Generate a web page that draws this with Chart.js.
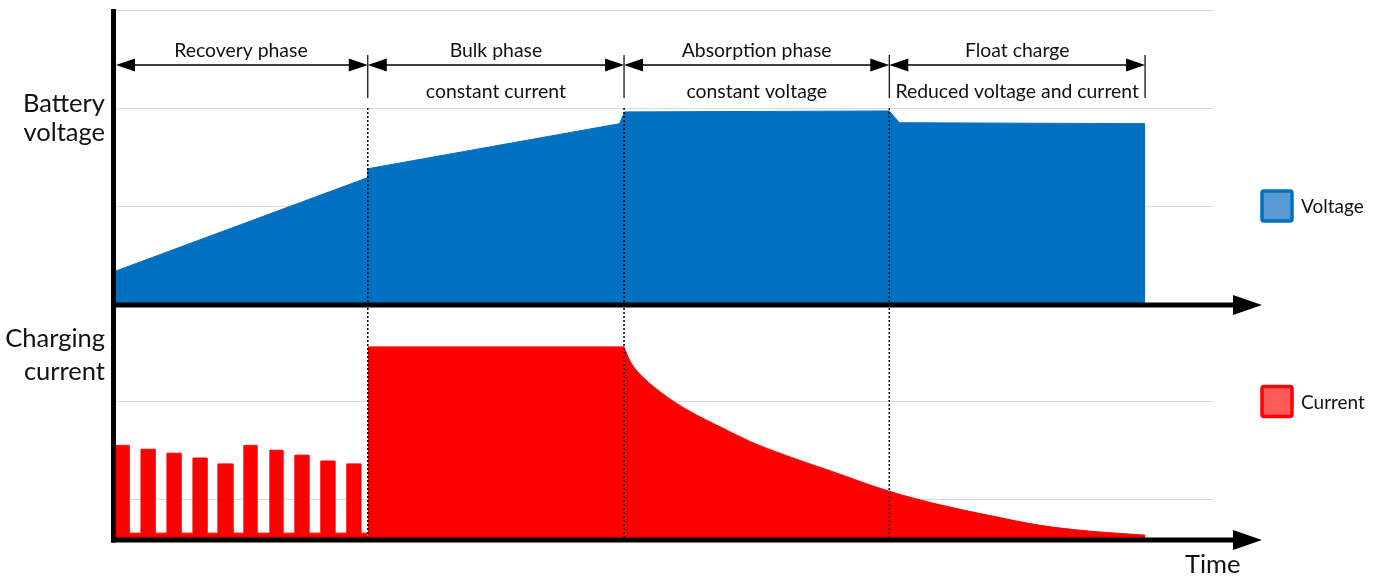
<!DOCTYPE html>
<html lang="en">
<head>
<meta charset="UTF-8">
<title>Battery charging phases</title>
<script src="https://cdn.jsdelivr.net/npm/chart.js"></script>
<style>
  html, body { margin: 0; padding: 0; background: #fff; }
  #wrap { position: relative; width: 1374px; height: 578px; }
</style>
</head>
<body>
<div id="wrap"><canvas id="chargeChart"></canvas></div>
<script>
// time axis: phase boundaries (arbitrary time units)
const phaseBounds = [0, 25.4, 51.05, 77.6, 103.2];
const phaseNames = ['Recovery phase', 'Bulk phase', 'Absorption phase', 'Float charge'];
const phaseNotes = ['', 'constant current', 'constant voltage', 'Reduced voltage and current'];

// battery voltage
const voltageTime = [0, 25.4, 25.4, 50.6, 51.1, 77.6, 78.6, 103.2];
const voltageValue = [0.33, 1.29, 1.38, 1.84, 1.96, 1.97, 1.85, 1.84];

// recovery phase current pulses
const pulseStart = [0, 2.7, 5.3, 7.9, 10.4, 13.0, 15.6, 18.1, 20.7, 23.3];
const pulseEnd = [1.5, 4.1, 6.7, 9.3, 11.9, 14.3, 16.9, 19.5, 22.1, 24.7];
const pulseHeight = [0.95, 0.91, 0.87, 0.82, 0.76, 0.95, 0.90, 0.85, 0.79, 0.76];
const pulseBase = 0.05;

// bulk phase current
const bulkTime = [25.4, 51.05];
const bulkValue = [1.96, 1.96];

// absorption + float current decay
const decayTime = [51.05, 51.35, 51.85, 52.55, 53.45, 54.65, 56.15, 58.15, 60.66, 63.66, 67.16, 71.66,
                   77.57, 82.68, 87.68, 92.68, 97.69, 103.2];
const decayValue = [1.96, 1.88, 1.78, 1.69, 1.60, 1.50, 1.39, 1.27, 1.14, 0.99, 0.85, 0.69,
                    0.48, 0.34, 0.23, 0.13, 0.07, 0.03];

// grid lines of both panels
const voltageGrid = [1, 2, 3];
const currentGrid = [0.4, 1.4, 2.4];

const legendNames = ['Voltage', 'Current'];

const BLUE = '#0070c0';
const RED = '#ff0000';
const FONT = 'Lato, "Open Sans", sans-serif';

function toPoints(xs, ys) {
    return xs.map((x, i) => ({ x: x, y: ys[i] }));
}

// square wave for the pulses
const pulsePoints = [];
pulseStart.forEach((s, i) => {
    pulsePoints.push({ x: s, y: pulseBase }, { x: s, y: pulseHeight[i] },
                     { x: pulseEnd[i], y: pulseHeight[i] }, { x: pulseEnd[i], y: pulseBase });
});
pulsePoints.push({ x: phaseBounds[1], y: pulseBase });

function axisArrow(ctx, x0, x1, y) {
    ctx.save();
    ctx.strokeStyle = '#000';
    ctx.fillStyle = '#000';
    ctx.lineWidth = 5;
    ctx.beginPath();
    ctx.moveTo(x0, y);
    ctx.lineTo(x1 - 26, y);
    ctx.stroke();
    ctx.beginPath();
    ctx.moveTo(x1 - 29, y - 10);
    ctx.lineTo(x1, y);
    ctx.lineTo(x1 - 29, y + 10);
    ctx.closePath();
    ctx.fill();
    ctx.restore();
}

function dimArrow(ctx, xa, xb, y) {
    ctx.save();
    ctx.strokeStyle = '#000';
    ctx.fillStyle = '#000';
    ctx.lineWidth = 1.5;
    ctx.beginPath();
    ctx.moveTo(xa + 10, y);
    ctx.lineTo(xb - 10, y);
    ctx.stroke();
    ctx.beginPath();
    ctx.moveTo(xa, y);
    ctx.lineTo(xa + 19, y - 6.5);
    ctx.lineTo(xa + 19, y + 6.5);
    ctx.closePath();
    ctx.moveTo(xb, y);
    ctx.lineTo(xb - 19, y - 6.5);
    ctx.lineTo(xb - 19, y + 6.5);
    ctx.closePath();
    ctx.fill();
    ctx.restore();
}

function legendBox(ctx, x, y, fill, stroke, label) {
    ctx.save();
    ctx.fillStyle = fill;
    ctx.strokeStyle = stroke;
    ctx.lineWidth = 3.5;
    ctx.beginPath();
    ctx.roundRect(x, y - 15, 30, 30, 2);
    ctx.fill();
    ctx.stroke();
    ctx.fillStyle = '#111';
    ctx.font = '19px ' + FONT;
    ctx.textAlign = 'left';
    ctx.textBaseline = 'middle';
    ctx.fillText(label, x + 39, y + 1);
    ctx.restore();
}

const overlay = {
    id: 'overlay',
    afterDatasetsDraw(chart) {
        const { ctx, chartArea: a, scales: { x, yV, yI } } = chart;
        const bx = phaseBounds.map(v => x.getPixelForValue(v));
        const vBottom = yV.getPixelForValue(0);
        const iBottom = yI.getPixelForValue(0);

        // dotted phase separators
        ctx.save();
        ctx.strokeStyle = '#000';
        ctx.lineWidth = 1.5;
        ctx.setLineDash([2, 2]);
        for (let i = 1; i < bx.length - 1; i++) {
            ctx.beginPath();
            ctx.moveTo(bx[i], 108);
            ctx.lineTo(bx[i], iBottom);
            ctx.stroke();
        }
        ctx.restore();

        // solid ticks of the dimension lines
        ctx.save();
        ctx.strokeStyle = '#000';
        ctx.lineWidth = 1.2;
        for (let i = 1; i < bx.length; i++) {
            ctx.beginPath();
            ctx.moveTo(bx[i], 55);
            ctx.lineTo(bx[i], 98);
            ctx.stroke();
        }
        ctx.restore();

        // phase arrows and texts
        for (let i = 0; i < phaseNames.length; i++) {
            const xa = i === 0 ? a.left + 2 : bx[i];
            dimArrow(ctx, xa, bx[i + 1], 65);
            const cx = (bx[i] + bx[i + 1]) / 2;
            ctx.save();
            ctx.fillStyle = '#111';
            ctx.font = '19.4px ' + FONT;
            ctx.textAlign = 'center';
            ctx.textBaseline = 'middle';
            ctx.fillText(phaseNames[i], cx, 51);
            if (phaseNotes[i]) ctx.fillText(phaseNotes[i], cx, 92);
            ctx.restore();
        }

        // axes
        axisArrow(ctx, a.left - 3, 1262, vBottom + 1);
        axisArrow(ctx, a.left - 3, 1262, iBottom + 2);
        ctx.save();
        ctx.strokeStyle = '#000';
        ctx.lineWidth = 5;
        ctx.beginPath();
        ctx.moveTo(a.left - 0.5, a.top - 1);
        ctx.lineTo(a.left - 0.5, iBottom + 4.5);
        ctx.stroke();
        ctx.restore();

        // axis titles
        ctx.save();
        ctx.fillStyle = '#111';
        ctx.font = '25.5px ' + FONT;
        ctx.textAlign = 'right';
        ctx.textBaseline = 'alphabetic';
        ctx.fillText('Battery', 105, 112);
        ctx.fillText('voltage', 105, 141);
        ctx.fillText('Charging', 105, 347);
        ctx.fillText('current', 105, 380);
        ctx.textAlign = 'left';
        ctx.fillText('Time', 1185, 573);
        ctx.restore();

        // legend
        legendBox(ctx, 1262, yV.getPixelForValue(1), '#5b9bd5', BLUE, legendNames[0]);
        legendBox(ctx, 1262, yI.getPixelForValue(1.4), '#ff5b5b', RED, legendNames[1]);
    }
};

new Chart(document.getElementById('chargeChart'), {
    type: 'line',
    data: {
        datasets: [
            { label: legendNames[0], data: toPoints(voltageTime, voltageValue), yAxisID: 'yV',
              backgroundColor: BLUE, borderColor: BLUE, borderWidth: 1, fill: 'start', tension: 0 },
            { label: legendNames[1], data: pulsePoints, yAxisID: 'yI',
              backgroundColor: RED, borderColor: RED, borderWidth: 1, fill: 'start', tension: 0 },
            { label: legendNames[1], data: toPoints(bulkTime, bulkValue), yAxisID: 'yI',
              backgroundColor: RED, borderColor: RED, borderWidth: 1, fill: 'start', tension: 0 },
            { label: legendNames[1], data: toPoints(decayTime, decayValue), yAxisID: 'yI',
              backgroundColor: RED, borderColor: RED, borderWidth: 1, fill: 'start',
              cubicInterpolationMode: 'monotone' }
        ]
    },
    options: {
        responsive: true,
        maintainAspectRatio: false,
        animation: false,
        layout: { padding: { left: 114, right: 161, top: 10, bottom: 40 } },
        elements: { point: { radius: 0 } },
        plugins: { legend: { display: false }, tooltip: { enabled: false } },
        scales: {
            x: { type: 'linear', min: 0, max: 110, display: false },
            yI: {
                type: 'linear', position: 'left', stack: 'panels', stackWeight: 234,
                min: 0, max: 2.4,
                afterBuildTicks: s => { s.ticks = currentGrid.map(v => ({ value: v })); },
                afterFit: s => { s.width = 0; },
                ticks: { display: false },
                border: { display: false },
                grid: { color: '#d9d9d9', lineWidth: 1, drawTicks: false }
            },
            yV: {
                type: 'linear', position: 'left', stack: 'panels', stackWeight: 294,
                min: 0, max: 3,
                afterBuildTicks: s => { s.ticks = voltageGrid.map(v => ({ value: v })); },
                afterFit: s => { s.width = 0; },
                ticks: { display: false },
                border: { display: false },
                grid: { color: '#d9d9d9', lineWidth: 1, drawTicks: false }
            }
        }
    },
    plugins: [overlay]
});
</script>
</body>
</html>
